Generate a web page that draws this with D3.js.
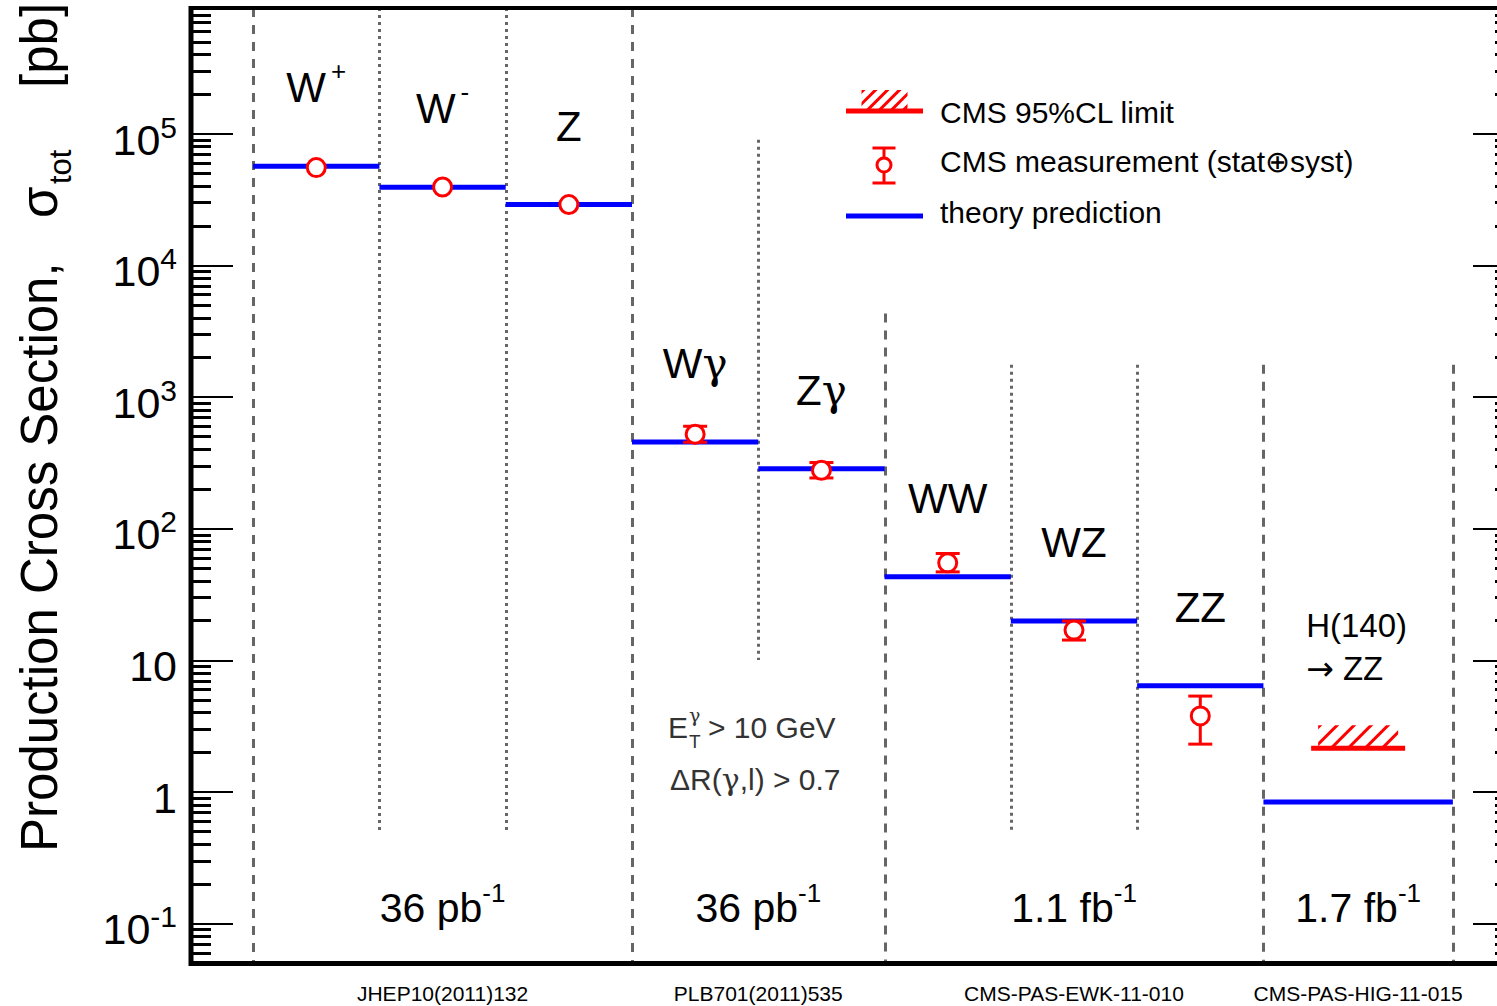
<!DOCTYPE html>
<html>
<head>
<meta charset="utf-8">
<script src="https://cdn.jsdelivr.net/npm/d3@7"></script>
<style>
  body { margin: 0; background: #fff; }
  svg { display: block; font-family: "Liberation Sans", Arial, Helvetica, sans-serif; }
  .greek { font-family: "DejaVu Serif", serif; }
  .arrow { font-family: "DejaVu Sans", sans-serif; }
</style>
</head>
<body>
<svg id="chart" width="1497" height="1006"></svg>
<script>
// ---- data -------------------------------------------------------------
const categories   = ["W+", "W-", "Z", "Wγ", "Zγ", "WW", "WZ", "ZZ", "H(140)→ZZ"];
// bin edges along the category axis (last bin is wider)
const binEdges     = [0.5, 1.5, 2.5, 3.5, 4.5, 5.5, 6.5, 7.5, 8.5, 10];
// theory prediction [pb]
const theory       = [56500, 39100, 28900, 455, 284, 42.9, 19.8, 6.38, 0.834];
// CMS measurement [pb] with total (stat+syst) interval
const measured     = [55200, 39300, 28900, 520, 277, 54.8, 16.9, 3.77, null];
const measuredLow  = [54000, 38400, 28300, 452, 242, 46.8, 14.2, 2.30, null];
const measuredHigh = [56400, 40200, 29500, 598, 317, 64.6, 19.8, 5.33, null];
// CMS 95% CL upper limit [pb]
const limit95      = [null, null, null, null, null, null, null, null, 2.14];
// category label pieces
const labelMain    = ["W", "W", "Z", "W", "Z", "WW", "WZ", "ZZ"];
const labelGreek   = ["", "", "", "γ", "γ", "", "", ""];
const labelSup     = ["+", "-", "", "", "", "", "", ""];
// vertical separators: extent in cross-section units
const sepTop       = [9e5, 9e5, 9e5, 9e5, 9e4, 4300, 1750, 1750, 1750, 1750];
const sepBottom    = [0.05, 0.5, 0.5, 0.05, 10, 0.05, 0.5, 0.5, 0.05, 0.05];
// luminosity groups and references
const groupEdges   = [0.5, 3.5, 5.5, 8.5, 10];
const lumiText     = ["36 pb", "36 pb", "1.1 fb", "1.7 fb"];
const references   = ["JHEP10(2011)132", "PLB701(2011)535", "CMS-PAS-EWK-11-010", "CMS-PAS-HIG-11-015"];
// y-axis tick labels
const tickValues   = [0.1, 1, 10, 100, 1e3, 1e4, 1e5];
const tickBase     = ["10", "1", "10", "10", "10", "10", "10"];
const tickExp      = ["-1", "", "", "2", "3", "4", "5"];

// ---- setup ------------------------------------------------------------
const svg = d3.select("#chart");
const x = d3.scaleLinear().domain([0, 10.5]).range([190, 1516]);
const y = d3.scaleLog().domain([0.05, 9e5]).range([963, 8]);

const RED = "#ff0000", BLUE = "#0000ff", GREY = "#666666";

// ---- separators -------------------------------------------------------
binEdges.forEach((p, i) => {
  const dashed = groupEdges.includes(p);
  const px = Math.round(x(p)) + 0.5;
  svg.append("line")
    .attr("x1", px).attr("x2", px)
    .attr("y1", y(sepTop[i])).attr("y2", y(sepBottom[i]))
    .attr("stroke", GREY).attr("stroke-width", 3)
    .attr("stroke-dasharray", dashed ? "9,8" : "3,4");
});

// ---- theory predictions -----------------------------------------------
theory.forEach((v, i) => {
  svg.append("line")
    .attr("x1", x(binEdges[i])).attr("x2", x(binEdges[i + 1]))
    .attr("y1", y(v)).attr("y2", y(v))
    .attr("stroke", BLUE).attr("stroke-width", 5);
});

// ---- hatched limit marker ---------------------------------------------
let clipId = 0;
function limitMark(g, cx, cy, halfLine, halfHatch, hatchH, spacing) {
  const id = "hclip" + (clipId++);
  svg.append("clipPath").attr("id", id).append("rect")
    .attr("x", cx - halfHatch).attr("y", cy - hatchH - 2)
    .attr("width", 2 * halfHatch).attr("height", hatchH);
  const hg = g.append("g").attr("clip-path", `url(#${id})`);
  for (let bx = cx - halfHatch - hatchH; bx <= cx + halfHatch; bx += spacing) {
    hg.append("line")
      .attr("x1", bx).attr("y1", cy)
      .attr("x2", bx + hatchH + 4).attr("y2", cy - hatchH - 4)
      .attr("stroke", RED).attr("stroke-width", 3);
  }
  g.append("line")
    .attr("x1", cx - halfLine).attr("x2", cx + halfLine)
    .attr("y1", cy).attr("y2", cy)
    .attr("stroke", RED).attr("stroke-width", 5);
}

limit95.forEach((v, i) => {
  if (v == null) return;
  const cx = x((binEdges[i] + binEdges[i + 1]) / 2);
  limitMark(svg, cx, y(v), 47, 40, 21, 17);
});

// ---- measurements -----------------------------------------------------
function measMark(g, cx, cy, yHi, yLo, r, capW, sw) {
  if (yHi < cy - r) g.append("line").attr("x1", cx).attr("x2", cx).attr("y1", yHi).attr("y2", cy - r)
      .attr("stroke", RED).attr("stroke-width", sw);
  if (yLo > cy + r) g.append("line").attr("x1", cx).attr("x2", cx).attr("y1", cy + r).attr("y2", yLo)
      .attr("stroke", RED).attr("stroke-width", sw);
  [yHi, yLo].forEach(e => {
    if (Math.abs(e - cy) > 6) g.append("line")
      .attr("x1", cx - capW / 2).attr("x2", cx + capW / 2).attr("y1", e).attr("y2", e)
      .attr("stroke", RED).attr("stroke-width", sw);
  });
  g.append("circle").attr("cx", cx).attr("cy", cy).attr("r", r)
    .attr("fill", "#fff").attr("stroke", RED).attr("stroke-width", sw);
}

measured.forEach((v, i) => {
  if (v == null) return;
  const cx = x((binEdges[i] + binEdges[i + 1]) / 2);
  measMark(svg, cx, y(v), y(measuredHigh[i]), y(measuredLow[i]), 9, 24, 3);
});

// ---- category labels --------------------------------------------------
labelMain.forEach((t, i) => {
  const cx = x((binEdges[i] + binEdges[i + 1]) / 2);
  const txt = svg.append("text")
    .attr("x", cx).attr("y", y(theory[i]) - 64)
    .attr("text-anchor", "middle").attr("font-size", 42).attr("fill", "#000");
  txt.append("tspan").text(t);
  if (labelGreek[i]) txt.append("tspan").attr("class", "greek").text(labelGreek[i]);
  if (labelSup[i]) {
    txt.append("tspan").attr("dx", 5).attr("dy", -22).attr("font-size", 26).text(labelSup[i]);
  }
});
{
  const hx = x((binEdges[8] + binEdges[9]) / 2) - 52;
  svg.append("text").attr("x", hx).attr("y", 637).attr("font-size", 33).text("H(140)");
  const t2 = svg.append("text").attr("x", hx).attr("y", 680).attr("font-size", 33);
  t2.append("tspan").attr("class", "arrow").text("→");
  t2.append("tspan").text(" ZZ");
}

// ---- kinematic cuts note ----------------------------------------------
{
  const g = svg.append("g").attr("fill", "#333");
  g.append("text").attr("x", 668).attr("y", 738).attr("font-size", 30).text("E");
  g.append("text").attr("x", 689).attr("y", 748).attr("font-size", 19).text("T");
  g.append("text").attr("x", 689).attr("y", 722).attr("font-size", 19)
    .attr("class", "greek").text("γ");
  g.append("text").attr("x", 708).attr("y", 738).attr("font-size", 30).text("> 10 GeV");
  const t = g.append("text").attr("x", 670).attr("y", 790).attr("font-size", 30);
  t.append("tspan").text("ΔR(");
  t.append("tspan").attr("class", "greek").text("γ");
  t.append("tspan").text(",l) > 0.7");
}

// ---- luminosity and references ----------------------------------------
lumiText.forEach((t, i) => {
  const cx = x((groupEdges[i] + groupEdges[i + 1]) / 2);
  const txt = svg.append("text").attr("x", cx).attr("y", 922)
    .attr("text-anchor", "middle").attr("font-size", 41);
  txt.append("tspan").text(t);
  txt.append("tspan").attr("dy", -20).attr("font-size", 26).text("-1");
  svg.append("text").attr("x", cx).attr("y", 1001)
    .attr("text-anchor", "middle").attr("font-size", 21).text(references[i]);
});

// ---- legend -----------------------------------------------------------
{
  const lg = svg.append("g");
  limitMark(lg, 884.5, 111, 38.5, 23, 19, 12);
  measMark(lg, 884, 165, 148, 183, 7, 23, 3);
  lg.append("line").attr("x1", 846).attr("x2", 923).attr("y1", 216).attr("y2", 216)
    .attr("stroke", BLUE).attr("stroke-width", 5);
  const items = ["CMS 95%CL limit", "CMS measurement (stat⊕syst)", "theory prediction"];
  const base = [123, 172, 223];
  items.forEach((t, i) => lg.append("text").attr("x", 940).attr("y", base[i])
    .attr("font-size", 30).text(t));
}

// ---- axes ticks -------------------------------------------------------
const minorTicks = [];
for (let e = -2; e <= 5; e++) {
  for (let m = 2; m <= 9; m++) {
    const v = m * Math.pow(10, e);
    if (v >= 0.05 && v <= 9e5) minorTicks.push(v);
  }
}
function tickAxis(gen, tx, values, size, sw) {
  const g = svg.append("g").attr("transform", `translate(${tx},0)`)
    .call(gen(y).tickValues(values).tickSize(size).tickFormat(""));
  g.select(".domain").remove();
  g.selectAll("line").attr("stroke", "#000").attr("stroke-width", sw)
    .attr("shape-rendering", "crispEdges");
}
tickAxis(d3.axisRight, 191, tickValues, 42, 2);
tickAxis(d3.axisRight, 191, minorTicks, 20, 3);
tickAxis(d3.axisLeft, 1513, tickValues, 40, 2);
tickAxis(d3.axisLeft, 1513, minorTicks, 18, 3);

// ---- tick labels ------------------------------------------------------
tickValues.forEach((v, i) => {
  const txt = svg.append("text").attr("x", 177).attr("y", y(v) + 21)
    .attr("text-anchor", "end").attr("font-size", 43);
  txt.append("tspan").text(tickBase[i]);
  if (tickExp[i]) txt.append("tspan").attr("dy", -17).attr("font-size", 30).text(tickExp[i]);
});

// ---- frame ------------------------------------------------------------
svg.append("line").attr("x1", 191).attr("x2", 191).attr("y1", 6).attr("y2", 966)
  .attr("stroke", "#000").attr("stroke-width", 5);
svg.append("line").attr("x1", 189).attr("x2", 1520).attr("y1", 8).attr("y2", 8)
  .attr("stroke", "#000").attr("stroke-width", 4);
svg.append("line").attr("x1", 189).attr("x2", 1520).attr("y1", 963.5).attr("y2", 963.5)
  .attr("stroke", "#000").attr("stroke-width", 5);
svg.append("line").attr("x1", 1513).attr("x2", 1513).attr("y1", 6).attr("y2", 966)
  .attr("stroke", "#000").attr("stroke-width", 5);

// ---- y-axis title -----------------------------------------------------
svg.append("text").attr("transform", "translate(57,852) rotate(-90)")
  .attr("font-size", 51).text("Production Cross Section,");
svg.append("text").attr("transform", "translate(57,218) rotate(-90)")
  .attr("font-size", 51).text("σ");
svg.append("text").attr("transform", "translate(71,184) rotate(-90)")
  .attr("font-size", 31).text("tot");
svg.append("text").attr("transform", "translate(57,88) rotate(-90)")
  .attr("font-size", 51).text("[pb]");
</script>
</body>
</html>
